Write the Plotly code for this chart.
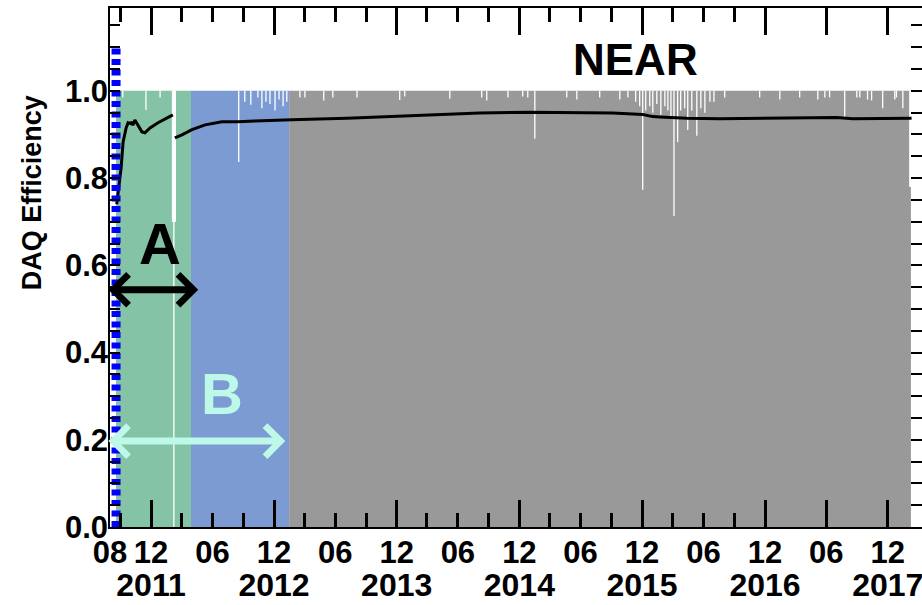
import plotly.graph_objects as go

# ---------------------------------------------------------------- data ----
# Data-taking periods: daily DAQ efficiency bands (top of band = 1.0)
PERIOD_NAMES = ["A", "B", "C"]
PERIOD_START = ["2011-08-19", "2012-03-29", "2013-01-15"]
PERIOD_END = ["2012-03-29", "2013-01-15", "2018-02-08"]
PERIOD_LEVEL = [1.0, 1.0, 1.0]
PERIOD_COLORS = ["#84C3A5", "#7B9BD2", "#999999"]

# Days on which the daily DAQ efficiency fell below 1.0
DIP_DATES = [
    "2011-09-08", "2011-11-16", "2011-12-28",
    "2012-02-03", "2012-02-04", "2012-02-05", "2012-02-06", "2012-02-07",
    "2012-02-08", "2012-02-09", "2012-02-10", "2012-02-11",
    "2012-08-18", "2012-09-05", "2012-09-23", "2012-10-14", "2012-10-26",
    "2012-11-07", "2012-11-19", "2012-12-04", "2012-12-16", "2012-12-28",
    "2013-01-08", "2013-02-16", "2013-03-03", "2013-04-28", "2013-05-25",
    "2013-08-05", "2013-12-10", "2013-12-25", "2014-05-08", "2014-08-11",
    "2014-08-26", "2014-10-28", "2014-12-11", "2014-12-26", "2015-01-16",
    "2015-04-21", "2015-05-21", "2015-07-28", "2015-09-26", "2015-10-20",
    "2015-11-12", "2015-11-24", "2015-12-03", "2015-12-12", "2015-12-24",
    "2016-01-02", "2016-01-14", "2016-01-26", "2016-02-07", "2016-02-16",
    "2016-02-25", "2016-03-05", "2016-03-16", "2016-03-25", "2016-04-06",
    "2016-04-15", "2016-04-27", "2016-05-12", "2016-05-24", "2016-06-05",
    "2016-06-20", "2016-07-02", "2016-08-03", "2016-11-15", "2017-01-14",
    "2017-03-14", "2017-05-07", "2017-05-28", "2017-06-11", "2017-07-26",
    "2017-08-31", "2017-09-09", "2017-10-02", "2017-10-14", "2017-11-16",
    "2017-12-22", "2017-12-27", "2018-01-15",
    "2018-02-05", "2018-02-06", "2018-02-07",
]
DIP_VALUES = [
    0.985, 0.956, 0.985,
    0.70, 0.70, 0.70, 0.70, 0.0,
    0.70, 0.70, 0.70, 0.70,
    0.837, 0.975, 0.968, 0.985, 0.960,
    0.975, 0.970, 0.955, 0.980, 0.965,
    0.975, 0.985, 0.985, 0.978, 0.985,
    0.985, 0.979, 0.987, 0.982, 0.985,
    0.978, 0.985, 0.987, 0.985, 0.890,
    0.985, 0.980, 0.985, 0.980, 0.985,
    0.975, 0.965, 0.773, 0.955, 0.965,
    0.950, 0.970, 0.945, 0.965, 0.955,
    0.940, 0.713, 0.883, 0.955, 0.960,
    0.910, 0.955, 0.897, 0.960, 0.950,
    0.975, 0.975, 0.985, 0.985, 0.980,
    0.985, 0.980, 0.985, 0.985, 0.940,
    0.985, 0.985, 0.980, 0.978, 0.960,
    0.980, 0.985, 0.960,
    0.78, 0.78, 0.78,
]

# Accumulated DAQ efficiency (None marks the interruption in Feb 2012)
RUN_DATES = [
    "2011-08-21", "2011-08-28", "2011-09-03", "2011-09-09", "2011-09-18",
    "2011-09-24", "2011-10-01", "2011-10-05", "2011-10-08", "2011-10-14",
    "2011-10-23", "2011-11-04", "2011-11-13", "2011-11-28", "2011-12-22",
    "2012-01-18", "2012-02-04", "2012-02-07",
    "2012-02-10", "2012-03-02", "2012-04-01", "2012-05-10", "2012-06-29",
    "2012-08-16", "2012-10-05", "2012-11-25", "2013-01-23", "2013-07-06",
    "2014-01-18", "2014-08-05", "2015-01-01", "2015-05-30", "2015-09-05",
    "2015-12-03", "2016-01-02", "2016-01-23", "2016-04-12", "2016-07-19",
    "2017-02-04", "2017-07-02", "2017-08-19", "2018-02-10",
]
RUN_EFF = [
    0.740, 0.790, 0.823, 0.883, 0.915,
    0.927, 0.925, 0.929, 0.921, 0.933,
    0.922, 0.906, 0.904, 0.915, 0.927,
    0.938, 0.945, None,
    0.892, 0.899, 0.911, 0.922, 0.929,
    0.929, 0.931, 0.933, 0.934, 0.937,
    0.943, 0.949, 0.951, 0.950, 0.949,
    0.946, 0.941, 0.940, 0.937, 0.936,
    0.937, 0.939, 0.936, 0.937,
]

# Start of data taking in the near hall
START_DATE = "2011-08-19"
START_MARK_TOP = 1.10

# Period arrows: label, left end, right end, height, colour
ARROW_LABELS = ["A", "B"]
ARROW_FROM = ["2011-07-27", "2011-07-27"]
ARROW_TO = ["2012-04-24", "2013-01-08"]
ARROW_Y = [0.544, 0.197]
ARROW_COLORS = ["#000000", "#BDF8E8"]
LABEL_X = ["2011-12-27", "2012-06-29"]
LABEL_Y = [0.649, 0.307]

# Axes
X_RANGE = ["2011-08-01", "2018-03-13"]
Y_RANGE = [0.0, 1.19]
MONTH_TICKS = [
    "2011-08-01", "2011-12-01", "2012-06-01", "2012-12-01", "2013-06-01",
    "2013-12-01", "2014-06-01", "2014-12-01", "2015-06-01", "2015-12-01",
    "2016-06-01", "2016-12-01", "2017-06-01", "2017-12-01",
]
MONTH_LABELS = [
    "08", "12", "06", "12", "06", "12", "06",
    "12", "06", "12", "06", "12", "06", "12",
]
YEAR_TICKS = [
    "2011-12-01", "2012-12-01", "2013-12-01", "2014-12-01", "2015-12-01",
    "2016-12-01", "2017-12-01",
]
YEAR_LABELS = ["2011", "2012", "2013", "2014", "2015", "2016", "2017"]
LONG_TICKS = [
    "2011-12-01", "2012-12-01", "2013-12-01", "2014-12-01", "2015-12-01",
    "2016-12-01", "2017-06-01", "2017-12-01",
]
SHORT_TICKS = [
    "2011-09-01", "2012-03-01", "2012-06-01", "2012-09-01", "2013-03-01",
    "2013-06-01", "2013-09-01", "2014-03-01", "2014-06-01", "2014-09-01",
    "2015-03-01", "2015-06-01", "2015-09-01", "2016-03-01", "2016-06-01",
    "2016-09-01",
]

# ---------------------------------------------------------------- figure --
FONT = "Liberation Sans, Arial, sans-serif"
fig = go.Figure()

for name, s, e, lvl, col in zip(PERIOD_NAMES, PERIOD_START, PERIOD_END,
                                PERIOD_LEVEL, PERIOD_COLORS):
    fig.add_trace(go.Scatter(
        x=[s, e], y=[lvl, lvl], mode="lines", line=dict(width=0, color=col),
        fill="tozeroy", fillcolor=col, name=name, showlegend=False,
        hoverinfo="skip"))

# lost efficiency on individual days, cut out of the bands in white
dx, dy = [], []
for d, v in zip(DIP_DATES, DIP_VALUES):
    dx += [d, d, None]
    dy += [v, 1.0, None]
fig.add_trace(go.Scatter(x=dx, y=dy, mode="lines",
                         line=dict(color="white", width=1.3),
                         showlegend=False, hoverinfo="skip"))

fig.add_trace(go.Scatter(x=RUN_DATES, y=RUN_EFF, mode="lines",
                         line=dict(color="black", width=3),
                         connectgaps=False, showlegend=False))

fig.add_trace(go.Scatter(x=[START_DATE, START_DATE], y=[0, START_MARK_TOP],
                         mode="lines",
                         line=dict(color="#0000FF", width=9, dash="6px,4.5px"),
                         showlegend=False, hoverinfo="skip"))

# transparent traces that carry the secondary (tick / label only) axes
fig.add_trace(go.Scatter(x=X_RANGE, y=Y_RANGE, xaxis="x3", yaxis="y2",
                         mode="lines", line=dict(width=0),
                         opacity=0, showlegend=False, hoverinfo="skip"))
fig.add_trace(go.Scatter(x=X_RANGE, y=Y_RANGE, xaxis="x4", yaxis="y2",
                         mode="lines", line=dict(width=0),
                         opacity=0, showlegend=False, hoverinfo="skip"))

for lab, x0, x1, yv, col, lx, ly in zip(ARROW_LABELS, ARROW_FROM, ARROW_TO,
                                        ARROW_Y, ARROW_COLORS, LABEL_X, LABEL_Y):
    fig.add_annotation(x=x0, y=yv, ax=x1, ay=yv, xref="x", yref="y",
                       axref="x", ayref="y", text="", showarrow=True,
                       arrowside="end+start", arrowhead=4, startarrowhead=4,
                       arrowwidth=7, arrowsize=0.85, startarrowsize=0.85,
                       arrowcolor=col)
    fig.add_annotation(x=lx, y=ly, xref="x", yref="y", text=lab,
                       showarrow=False,
                       font=dict(family=FONT, size=58, color=col,
                                 weight="bold"))

fig.add_annotation(x="2015-11-12", y=1.073, xref="x", yref="y", text="NEAR",
                   showarrow=False,
                   font=dict(family=FONT, size=44, color="black",
                             weight="bold"))

# y-axis title, placed beside the upper part of the axis
fig.add_annotation(x=-0.096, y=0.643, xref="paper", yref="paper",
                   xanchor="center", yanchor="middle",
                   text="DAQ Efficiency", textangle=-90, showarrow=False,
                   font=dict(family=FONT, size=27, color="black",
                             weight="bold"))

tick_font = dict(family=FONT, size=31, color="black", weight="bold")
year_font = dict(family=FONT, size=32, color="black", weight="bold")

fig.update_layout(
    width=922, height=605,
    margin=dict(l=110, r=0, t=8, b=78),
    paper_bgcolor="white", plot_bgcolor="white",
    showlegend=False,
    xaxis=dict(
        type="date", range=X_RANGE, showgrid=False, zeroline=False,
        automargin=False, layer="above traces",
        showline=True, linecolor="black", linewidth=1.5, mirror="ticks",
        tickmode="array", tickvals=LONG_TICKS, ticks="inside", ticklen=27,
        tickwidth=3, tickcolor="black", showticklabels=False,
        minor=dict(tickmode="array", tickvals=SHORT_TICKS, ticks="inside",
                   ticklen=14, tickwidth=3, tickcolor="black",
                   showgrid=False),
    ),
    xaxis3=dict(
        type="date", range=X_RANGE, overlaying="x", anchor="y", side="bottom",
        showgrid=False, zeroline=False, showline=False, automargin=False,
        tickmode="array", tickvals=MONTH_TICKS, ticktext=MONTH_LABELS,
        ticks="", tickangle=0, tickfont=tick_font, ticklabelstandoff=4,
        ticklabeloverflow="allow",
    ),
    xaxis4=dict(
        type="date", range=X_RANGE, overlaying="x", anchor="y", side="bottom",
        showgrid=False, zeroline=False, showline=False, automargin=False,
        tickmode="array", tickvals=YEAR_TICKS, ticktext=YEAR_LABELS,
        ticks="", tickangle=0, tickfont=year_font, ticklabelstandoff=36,
        ticklabeloverflow="allow",
    ),
    yaxis=dict(
        range=Y_RANGE, showgrid=False, zeroline=False, automargin=False,
        layer="above traces",
        showline=True, linecolor="black", linewidth=1.5,
        tickmode="linear", tick0=0, dtick=0.2, tickformat=".1f",
        ticks="inside", ticklen=10, tickwidth=2, tickcolor="black",
        tickfont=tick_font, ticklabelstandoff=-6,
        minor=dict(dtick=0.05, ticks="inside", ticklen=10, tickwidth=2,
                   tickcolor="black", showgrid=False),
    ),
    yaxis2=dict(
        range=Y_RANGE, overlaying="y", side="right", anchor="x3",
        showgrid=False, zeroline=False, showline=False, automargin=False,
        tickmode="linear", tick0=0, dtick=0.05, ticks="inside", ticklen=11,
        tickwidth=2, tickcolor="black", showticklabels=False,
    ),
)

fig.write_html("out.html")
